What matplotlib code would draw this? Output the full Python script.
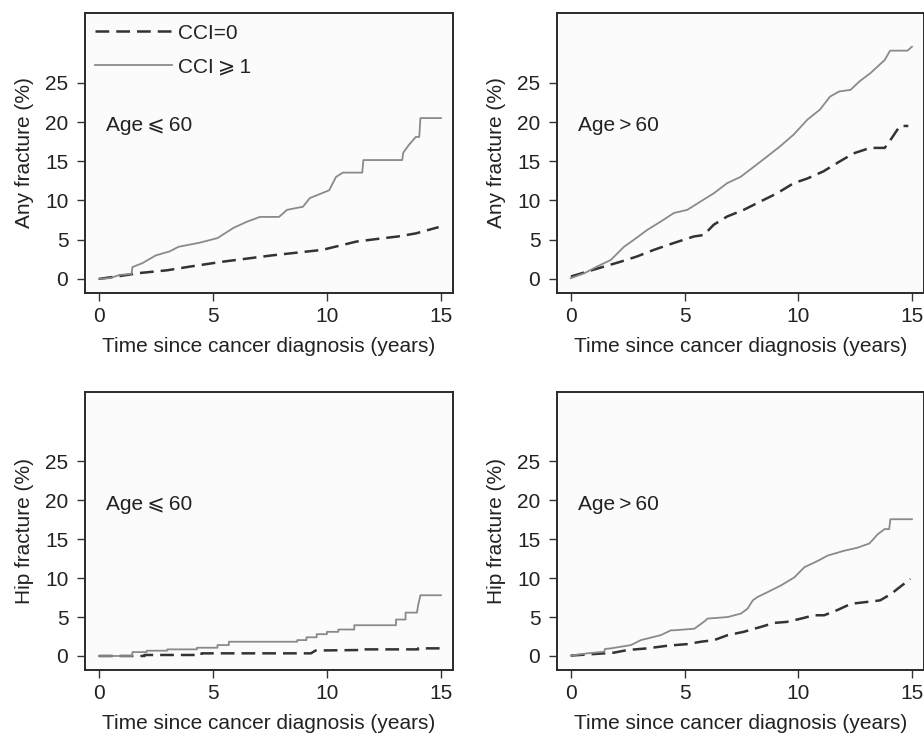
import matplotlib
matplotlib.use("Agg")
import matplotlib.pyplot as plt

plt.rcParams['font.family'] = ['Liberation Sans', 'DejaVu Sans']

# ---- data ----
# Panel A: Any fracture, Age <= 60
a_t_ccige1 = [0, 0.5, 0.9, 1.43, 1.47, 1.9, 2.5, 3.1, 3.5, 4.4, 5.2, 5.9, 6.5, 7.06, 7.9, 8.25, 8.95, 9.25, 10.1, 10.4, 10.7, 11.55, 11.6, 13.3, 13.35, 13.6, 13.9, 14.05, 14.1, 15.0]
a_v_ccige1 = [0, 0.1, 0.5, 0.64, 1.5, 2.0, 3.0, 3.5, 4.1, 4.6, 5.2, 6.5, 7.3, 7.9, 7.9, 8.8, 9.2, 10.3, 11.3, 13.0, 13.55, 13.55, 15.15, 15.15, 16.1, 17.1, 18.1, 18.1, 20.5, 20.5]
a_t_cci0 = [0, 1.0, 1.8, 3.0, 4.0, 5.45, 7.6, 9.8, 11.3, 12.5, 13.1, 13.9, 14.9]
a_v_cci0 = [0, 0.4, 0.75, 1.1, 1.57, 2.2, 3.0, 3.7, 4.76, 5.2, 5.4, 5.8, 6.6]

# Panel B: Any fracture, Age > 60
b_t_ccige1 = [0, 0.58, 1.17, 1.75, 2.34, 2.78, 3.36, 3.95, 4.53, 5.12, 5.7, 6.28, 6.87, 7.46, 8.05, 8.63, 9.2, 9.8, 10.4, 10.96, 11.4, 11.8, 12.3, 12.7, 13.16, 13.8, 14.04, 14.8, 15.0]
b_v_ccige1 = [0.1, 0.7, 1.6, 2.4, 4.1, 5.0, 6.25, 7.3, 8.4, 8.8, 9.86, 10.9, 12.2, 13.0, 14.3, 15.6, 16.9, 18.4, 20.3, 21.6, 23.25, 23.9, 24.1, 25.2, 26.2, 27.9, 29.1, 29.1, 29.6]
b_t_cci0 = [0, 0.73, 1.46, 2.2, 2.9, 3.65, 4.5, 5.4, 5.85, 6.28, 6.87, 7.6, 8.33, 9.06, 9.8, 10.4, 11.1, 11.84, 12.43, 13.16, 13.8, 13.96, 14.47, 14.84]
b_v_cci0 = [0.3, 0.94, 1.57, 2.2, 2.85, 3.7, 4.55, 5.4, 5.6, 6.9, 7.95, 8.8, 9.86, 10.9, 12.2, 12.8, 13.7, 15.0, 16.0, 16.7, 16.7, 17.3, 19.5, 19.5]

# Panel C: Hip fracture, Age <= 60
c_t_ccige1 = [0, 1.45, 1.47, 2.1, 2.1, 3.0, 3.0, 4.3, 4.3, 5.2, 5.2, 5.7, 5.7, 8.7, 8.7, 9.1, 9.1, 9.55, 9.55, 10.0, 10.0, 10.5, 10.5, 11.2, 11.2, 13.03, 13.03, 13.45, 13.45, 13.95, 14.0, 14.1, 15.0]
c_v_ccige1 = [0, 0, 0.5, 0.5, 0.68, 0.68, 0.85, 0.85, 1.06, 1.06, 1.4, 1.4, 1.83, 1.83, 2.04, 2.04, 2.4, 2.4, 2.8, 2.8, 3.1, 3.1, 3.4, 3.4, 3.95, 3.95, 4.68, 4.68, 5.57, 5.57, 6.5, 7.8, 7.8]
c_t_cci0 = [0, 2.0, 2.0, 4.5, 4.5, 9.3, 9.5, 11.5, 11.5, 14.0, 14.0, 15.0]
c_v_cci0 = [0, 0, 0.13, 0.13, 0.34, 0.34, 0.7, 0.77, 0.85, 0.85, 0.98, 0.98]

# Panel D: Hip fracture, Age > 60
d_t_ccige1 = [0, 0.73, 1.47, 1.5, 1.76, 2.64, 3.08, 3.96, 4.4, 4.55, 5.43, 5.9, 6.0, 6.9, 7.48, 7.77, 8.0, 8.2, 8.65, 9.24, 9.83, 10.27, 10.85, 11.3, 12.0, 12.6, 13.13, 13.5, 13.8, 14.0, 14.05, 15.0]
d_v_ccige1 = [0.05, 0.34, 0.55, 0.9, 0.98, 1.4, 2.04, 2.68, 3.3, 3.3, 3.5, 4.5, 4.8, 5.0, 5.45, 6.08, 7.14, 7.56, 8.2, 9.06, 10.1, 11.4, 12.2, 12.9, 13.5, 13.9, 14.45, 15.65, 16.3, 16.3, 17.56, 17.56]
d_t_cci0 = [0, 1.47, 1.9, 2.5, 3.37, 4.25, 5.13, 5.72, 6.3, 6.9, 7.6, 8.36, 8.95, 9.5, 10.12, 10.7, 11.14, 11.7, 12.32, 12.9, 13.6, 14.1, 14.37, 14.93]
d_v_cci0 = [0.05, 0.34, 0.43, 0.77, 0.98, 1.32, 1.53, 1.83, 2.04, 2.68, 3.1, 3.74, 4.25, 4.38, 4.8, 5.23, 5.23, 5.87, 6.7, 6.9, 7.14, 8.0, 8.63, 9.9]

ylabels = ["Any fracture (%)", "Any fracture (%)", "Hip fracture (%)", "Hip fracture (%)"]
age_texts = ["Age\u2009\u2a7d\u200960", "Age\u2009>\u200960", "Age\u2009\u2a7d\u200960", "Age\u2009>\u200960"]
legend_labels = ["CCI=0", "CCI\u2009\u2a7e\u20091"]
xlabel = "Time since cancer diagnosis (years)"
xticks = [0, 5, 10, 15]
yticks = [0, 5, 10, 15, 20, 25]

series = [
    (a_t_cci0, a_v_cci0, a_t_ccige1, a_v_ccige1),
    (b_t_cci0, b_v_cci0, b_t_ccige1, b_v_ccige1),
    (c_t_cci0, c_v_cci0, c_t_ccige1, c_v_ccige1),
    (d_t_cci0, d_v_cci0, d_t_ccige1, d_v_ccige1),
]

W, H = 924, 733
fig = plt.figure(figsize=(W / 100, H / 100), dpi=100)
fig.patch.set_facecolor('white')

# axes rectangles in pixels: left, top, right, bottom
rects = [(85, 13, 453, 293), (557, 13, 924, 293), (85, 392, 453, 670), (557, 392, 924, 670)]

FS = 15
for i, ((t0, v0, t1, v1), (l, t, r, b)) in enumerate(zip(series, rects)):
    ax = fig.add_axes([l / W, 1 - b / H, (r - l) / W, (b - t) / H])
    ax.set_facecolor('#fbfbfb')
    ax.plot(t0, v0, color='#333333', lw=1.8, linestyle=(0, (5.5, 2.8)), label=legend_labels[0])
    ax.plot(t1, v1, color='#8a8a8a', lw=1.3, label=legend_labels[1])
    ax.set_xlim(-0.61, 15.53)
    ax.set_ylim(-1.8, 33.9)
    ax.set_xticks(xticks)
    ax.set_yticks(yticks)
    ax.tick_params(axis='both', direction='out', length=6, width=1.0, color='#333333',
                   labelsize=FS, labelcolor='#222222')
    ax.tick_params(axis='y', pad=6)
    ax.tick_params(axis='x', pad=4)
    for s in ax.spines.values():
        s.set_color('#2a2a2a')
        s.set_linewidth(1.4)
    ax.set_ylabel(ylabels[i], fontsize=FS, color='#222222', labelpad=8)
    ax.set_xlabel(xlabel, fontsize=FS, color='#222222', labelpad=8)
    ax.text(0.3, 19.5, age_texts[i], fontsize=FS, color='#222222', va='center', ha='left')
    if i == 0:
        ax.legend(loc='upper left', bbox_to_anchor=(0.027, 0.962), frameon=False,
                  fontsize=FS, handlelength=3.7, handletextpad=0.3, labelspacing=0.72,
                  borderpad=0, borderaxespad=0, labelcolor='#222222')

fig.savefig('out.png', dpi=100, facecolor='white')
